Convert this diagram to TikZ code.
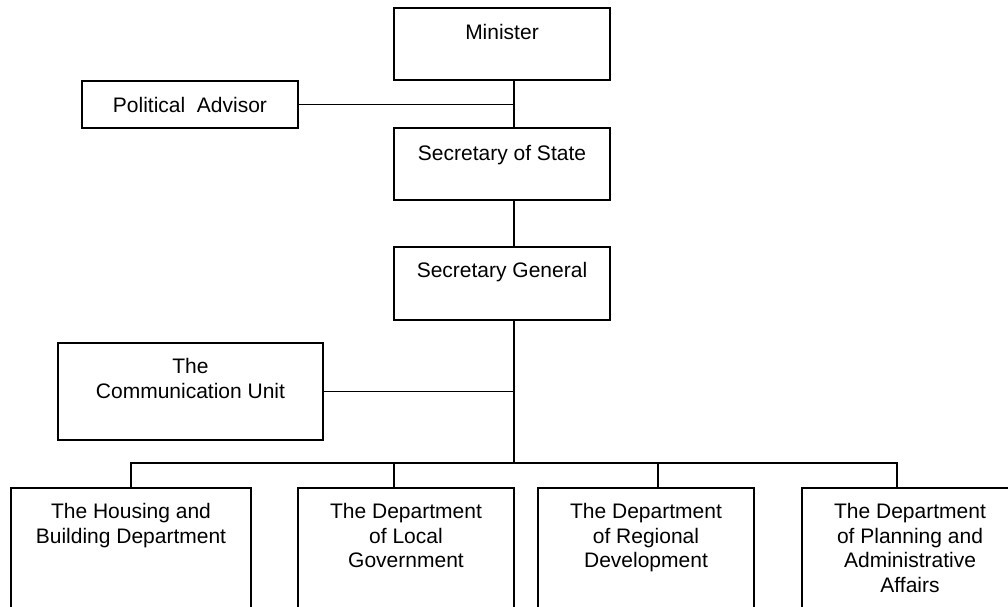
\documentclass[tikz,border=0pt]{standalone}
\usepackage{fontspec}
\setmainfont{Liberation Sans}
\begin{document}
\begin{tikzpicture}[x=1pt,y=-1pt,
  every node/.style={font=\fontsize{21}{24.5}\selectfont},
  unitbox/.style={draw,line width=1.9pt,inner sep=0pt,minimum width=216pt},
  boxtext/.style={anchor=north,inner sep=0pt,align=center},
  link/.style={line width=1.9pt}]
\useasboundingbox (0,0) rectangle (1008,606);
\clip (0,0) rectangle (1008,606);

% upper chain of command
\node[unitbox,minimum height=72pt] (minister) at (502,44) {};
\node[boxtext] at ([yshift=-17.5pt]minister.north) {Minister};
\node[unitbox,minimum height=72pt] (sos) at (502,164) {};
\node[boxtext] at ([yshift=-18pt]sos.north) {Secretary of State};
\node[unitbox,minimum height=73pt] (sg) at (502,283.5) {};
\node[boxtext] at ([yshift=-16.5pt]sg.north) {Secretary General};

% staff units
\node[unitbox,minimum height=47pt] (pa) at (190,104.5) {Political\ \ Advisor};
\node[unitbox,minimum width=265pt,minimum height=97pt] (cu) at (190.5,391.5) {};
\node[boxtext] at ([yshift=-16.5pt]cu.north) {The\\Communication Unit};

% departments (run off the lower edge)
\node[unitbox,minimum width=240pt,minimum height=152pt] (d1) at (131,564) {};
\node[boxtext] at ([yshift=-16.5pt]d1.north) {The Housing and\\Building Department};
\node[unitbox,minimum height=152pt] (d2) at (406,564) {};
\node[boxtext] at ([yshift=-16.5pt]d2.north) {The Department\\of Local\\Government};
\node[unitbox,minimum height=152pt] (d3) at (646,564) {};
\node[boxtext] at ([yshift=-16.5pt]d3.north) {The Department\\of Regional\\Development};
\node[unitbox,minimum height=152pt] (d4) at (910,564) {};
\node[boxtext] at ([yshift=-16.5pt]d4.north) {The Department\\of Planning and\\Administrative\\Affairs};

% junction points on the main trunk
\coordinate (j1) at (514,104.5);
\coordinate (bus) at (514,463);
\coordinate (s1) at (d1.north);
\coordinate (s2) at ([xshift=-12pt]d2.north);
\coordinate (s3) at ([xshift=12pt]d3.north);
\coordinate (s4) at ([xshift=-13pt]d4.north);

% connectors
\draw[link] (minister.south -| j1) -- (sos.north -| j1);
\draw[link] (pa.east) -- (j1);
\draw[link] (sos.south -| j1) -- (sg.north -| j1);
\draw[link] (sg.south -| j1) -- (bus);
\draw[link] (cu.east) -- (cu.east -| bus);
\draw[link] (s1) -- (s1 |- bus) -- (s4 |- bus) -- (s4);
\draw[link] (s2) -- (s2 |- bus);
\draw[link] (s3) -- (s3 |- bus);
\end{tikzpicture}
\end{document}
